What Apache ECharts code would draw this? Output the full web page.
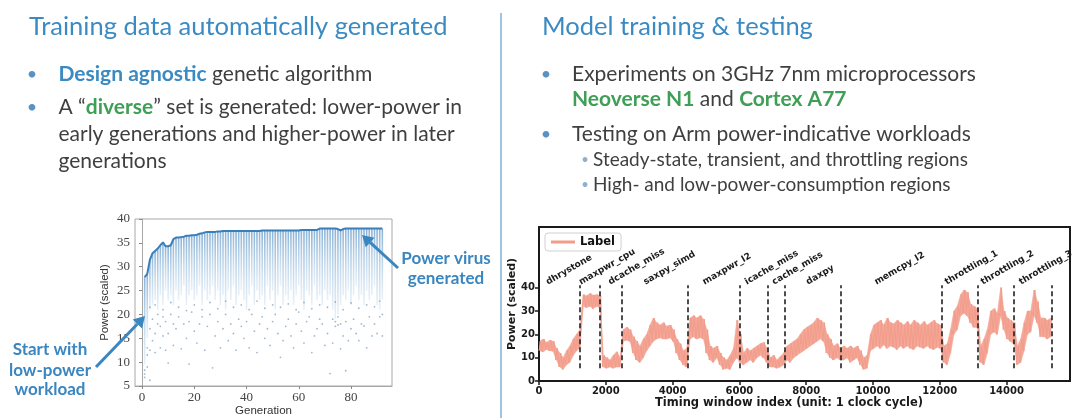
<!DOCTYPE html>
<html><head><meta charset="utf-8">
<script src="https://cdn.jsdelivr.net/npm/echarts@6/dist/echarts.min.js"></script>
<style>html,body{margin:0;padding:0;background:#fff;}#c{width:1080px;height:418px;}</style>
</head><body><div id="c"></div>
<script>
// ---------- Left chart data (genetic algorithm generations) ----------
const genMax = [
  27.8, 28.5, 31.5, 32.8, 33.3, 33.8, 34.5, 35.1, 34.3, 34.3, 34.5, 35.8,
  36.1, 36.1, 36.2, 36.3, 36.5, 36.5, 36.6, 36.6, 36.7, 36.9, 37.0, 37.2,
  37.3, 37.3, 37.3, 37.3, 37.4, 37.4, 37.5, 37.5, 37.5, 37.5, 37.5, 37.5,
  37.5, 37.5, 37.5, 37.5, 37.5, 37.5, 37.5, 37.5, 37.5, 37.6, 37.6, 37.6,
  37.6, 37.6, 37.6, 37.6, 37.6, 37.6, 37.6, 37.6, 37.6, 37.6, 37.6, 37.6,
  37.7, 37.7, 37.7, 37.7, 37.7, 37.7, 37.7, 38.0, 38.0, 38.0, 38.0, 38.0,
  38.0, 38.0, 37.9, 37.6, 37.9, 38.0, 38.0, 38.0, 38.0, 38.0, 38.0, 38.0,
  38.0, 38.0, 38.0, 38.0, 38.0, 38.0, 38.0, 38.0
];
const genLow = [
  9.5, 15, 21, 22, 23, 21, 24, 22, 25, 23, 24, 22,
  25, 23, 24, 26, 22, 24, 25, 23, 24, 26, 22, 25,
  23, 24, 26, 23, 25, 22, 24, 21, 25, 23, 26, 22,
  24, 25, 23, 21, 24, 26, 22, 25, 23, 24, 22, 26,
  23, 25, 21, 24, 26, 22, 24, 23, 25, 22, 24, 26,
  23, 21, 25, 24, 22, 26, 23, 24, 22, 25, 23, 24,
  21, 19, 20, 22, 24, 23, 25, 22, 24, 26, 23, 24,
  22, 25, 23, 24, 26, 22, 21, 23
];
const sparsePts = [
  [1,7.5],[1,8.3],[1,6.8],[2,9],[2,11.5],[2,13],[3,6.2],[3,12.5],[3,17],[4,14.5],[4,19],[5,16],[5,12],
  [6,18],[6,20],[7,13],[7,17.5],[8,15.5],[8,19.5],[9,12.5],[9,18.5],[10,9.8],[10,16],[11,20],[12,13.5],
  [12,18],[13,17],[14,19.5],[15,12.8],[16,18],[17,15],[18,9.6],[18,18.5],[19,20.5],[20,16.5],[21,14],
  [22,18],[23,19.5],[24,12.5],[25,17.5],[26,20],[27,8.8],[28,15.5],[29,18.5],[30,13],[31,17],[32,20],
  [33,14.5],[34,18],[35,16],[36,12.5],[37,19],[38,17.5],[39,15],[40,18.5],[41,13],[42,20],[43,16.5],
  [44,12],[45,18],[46,19.5],[47,15],[48,17],[49,13.5],[50,18.5],[51,20],[52,16],[53,11],[54,14.5],
  [55,17.5],[56,19],[57,15.5],[58,13],[59,18],[60,20.5],[61,16.5],[62,14],[63,18.5],[64,19.5],[65,12],
  [66,15.5],[67,17],[68,19],[69,18],[70,13.5],[71,16],[72,7.6],[73,14],[73,19],[74,17.5],[74,18.5],
  [75,19.5],[75,17.8],[76,12.8],[76,18],[77,15.5],[78,8.2],[78,18.5],[79,14.5],[80,17],[81,19],[82,16],
  [83,14.5],[84,18],[85,17.6],[86,13],[87,19.5],[88,15.5],[89,18],[90,16],[91,19.5],[92,15.5],[92,20],
  [3,21.5],[5,22],[8,21],[11,22.5],[14,21.5],[17,20.8],[20,22],[23,21],[26,22.5],[29,21.2],[32,22.8],
  [35,21.5],[38,22],[41,21],[44,22.8],[47,21.3],[50,22],[53,21.5],[56,22.2],[59,21],[62,22.5],[65,21.2],
  [68,22],[71,21.5],[74,22.6],[77,21],[80,22.4],[83,21.3],[86,22],[89,21.6],[91,22.8]
];
const genTicks = [0, 20, 40, 60, 80];

// ---------- Right chart data (power trace, per 100-window bin: low / high) ----------
const winStep = 100;
const winLo = [
  13, 12.5, 13.5, 13, 12.8, 9, 6, 5, 7, 8,
  11, 13, 14, 32, 31.5, 32, 31, 32, 31.5, 6,
  5.5, 6, 5.5, 6, 6, 17, 17.5, 17, 12, 9,
  8, 10, 13, 15, 17, 18, 18.5, 18, 18, 18.5,
  17, 12, 9, 7, 6, 18, 19, 18, 18.5, 18,
  12, 9, 8, 10, 7, 5, 5.5, 5, 8, 10,
  8, 7, 8, 9, 8, 10, 11, 10, 8, 6,
  6, 5.5, 6, 7, 9, 8, 10, 11, 12, 13,
  14, 15, 16, 17, 18, 17, 12, 10, 9, 10,
  9, 9, 10, 8, 9, 10, 7, 5, 5.5, 13,
  14, 15, 14, 15.5, 14, 15, 14.5, 13.5, 15, 14,
  15, 14, 13.5, 15, 14.5, 14, 15, 14, 13.5, 14.5,
  14, 8, 7, 12, 20, 22, 28, 29, 28, 25,
  23, 23, 8, 7, 12, 20, 21, 20, 28, 22,
  18, 17, 16, 7, 8, 13, 20, 21, 28, 25,
  19, 19, 18, 19
];
const winHi = [
  17, 18, 16.5, 17.5, 17, 14, 12, 10, 13, 15,
  18, 20, 22, 37, 36.5, 37.5, 36.8, 37, 36.5, 11,
  10, 9, 11, 12.5, 10, 22, 23, 22, 19, 17,
  15, 18, 20, 24, 27, 25, 24, 25, 23.5, 24,
  22, 18, 16, 13, 14, 27, 28, 27, 28, 26.5,
  22, 15, 14, 15, 12, 10, 9, 11, 14, 26,
  20, 12, 14, 13, 14, 15, 16, 16.5, 14, 10,
  11, 9, 10.5, 12, 15, 16, 17, 18, 20, 22,
  23, 24, 25, 27, 26, 25, 20, 18, 15, 16,
  14, 15, 14, 15, 14, 15, 13, 10, 11, 20,
  24, 25, 26, 24, 27, 25, 24.5, 26, 25, 24,
  25.5, 24, 26, 25, 24, 25.5, 24, 25, 26, 24.5,
  24, 15, 16, 22, 30, 32, 37, 39, 38, 33,
  32, 31, 15, 18, 22, 30, 31, 29, 40, 30,
  27, 26, 25, 15, 18, 25, 30, 30, 39, 34,
  27, 27, 26, 27
];
const boundaries = [1230, 1830, 2470, 4450, 6010, 6860, 7370, 9050, 12060, 13140, 14230, 15340];
const workloadNames = ['dhrystone','maxpwr_cpu','dcache_miss','saxpy_simd','maxpwr_l2','icache_miss',
  'cache_miss','daxpy','memcpy_l2','throttling_1','throttling_2','throttling_3'];
const workloadLabelX = [300, 1290, 2165, 3220, 4990, 6255, 7070, 8090, 10135, 12240, 13320, 14465];
const workloadLabelY = 40.5;
const timeTicks = [0, 2000, 4000, 6000, 8000, 10000, 12000, 14000];
const powerTicksR = [0, 10, 20, 30, 40];

// ---------- build ----------
const colData = genLow.map((lo, i) => [i + 1, lo, genMax[i]]);
const maxLine = genMax.map((v, i) => [i + 1, v]);
const trace = [];
for (let i = 0; i < winLo.length; i++) {
  trace.push([i * winStep, winLo[i]]);
  trace.push([i * winStep + winStep / 2, winHi[i]]);
}
// band segments between consecutive bins: [x, lo, hi, xNext, loNext, hiNext]
const bandSegs = [];
for (let i = 0; i < winLo.length - 1; i++) {
  bandSegs.push([i * winStep + winStep / 4, winLo[i], winHi[i], (i + 1) * winStep + winStep / 4, winLo[i + 1], winHi[i + 1]]);
}
const dashLines = boundaries.map(b => [{coord: [b, 5.5]}, {coord: [b, 41]}]);

const BLUE = '#3b8ac2', BODY = '#3f3f3f', GREEN = '#3f9f56', ANNO = '#3a86c0', SALMON = '#f29c8b';
const F = 'Lato';
function txt(x, y, text, size, color, extra) {
  return {type: 'text', x: x, y: y, z: 100, style: Object.assign({
    text: text, fontSize: size, fontFamily: F, fill: color, textAlign: 'left', textVerticalAlign: 'middle'
  }, extra || {})};
}
function arrow(x1, y1, x2, y2, color, w, hl, hw) {
  const a = Math.atan2(y2 - y1, x2 - x1);
  const bx = x2 - hl * Math.cos(a), by = y2 - hl * Math.sin(a);
  const nx = -Math.sin(a), ny = Math.cos(a);
  return [
    {type: 'line', z: 100, shape: {x1: x1, y1: y1, x2: bx, y2: by}, style: {stroke: color, lineWidth: w}},
    {type: 'polygon', z: 100, shape: {points: [[x2, y2], [bx + nx * hw, by + ny * hw], [bx - nx * hw, by - ny * hw]]}, style: {fill: color}}
  ];
}
const BS = 21;
const richB = {b: {fontWeight: 'bold', fill: BLUE, fontSize: BS, fontFamily: F},
               g: {fontWeight: 'bold', fill: GREEN, fontSize: BS, fontFamily: F}};

const staticGraphics = [
  {type: 'line', z: 1, shape: {x1: 501, y1: 13, x2: 501, y2: 418}, style: {stroke: '#7fb0da', lineWidth: 1.5}},
  txt(29, 27, 'Training data automatically generated', 25.5, BLUE),
  txt(542, 27, 'Model training & testing', 25.5, BLUE),
  txt(32, 74, '•', 18, '#5a92c4', {textAlign: 'center'}),
  txt(58.5, 74, '{b|Design agnostic} genetic algorithm', BS, BODY, {rich: richB}),
  txt(32, 107, '•', 18, '#5a92c4', {textAlign: 'center'}),
  txt(58.5, 107, 'A “{g|diverse}” set is generated: lower-power in', BS, BODY, {rich: richB}),
  txt(58.5, 134, 'early generations and higher-power in later', BS, BODY),
  txt(58.5, 161, 'generations', BS, BODY),
  txt(546, 74, '•', 18, '#5a92c4', {textAlign: 'center'}),
  txt(572, 74, 'Experiments on 3GHz 7nm microprocessors', BS, BODY),
  txt(572, 99, '{g|Neoverse N1} and {g|Cortex A77}', BS, BODY, {rich: richB}),
  txt(546, 134, '•', 18, '#5a92c4', {textAlign: 'center'}),
  txt(572, 134, 'Testing on Arm power-indicative workloads', BS, BODY),
  txt(585, 160, '•', 13, '#8fb0cf', {textAlign: 'center'}),
  txt(593, 160, 'Steady-state, transient, and throttling regions', 19, BODY),
  txt(585, 185, '•', 13, '#8fb0cf', {textAlign: 'center'}),
  txt(593, 185, 'High- and low-power-consumption regions', 19, BODY),
  txt(50, 350, 'Start with', 17, ANNO, {fontWeight: 'bold', textAlign: 'center'}),
  txt(50, 371, 'low-power', 17, ANNO, {fontWeight: 'bold', textAlign: 'center'}),
  txt(50, 390, 'workload', 17, ANNO, {fontWeight: 'bold', textAlign: 'center'}),
  txt(446, 259, 'Power virus', 17, ANNO, {fontWeight: 'bold', textAlign: 'center'}),
  txt(446, 279, 'generated', 17, ANNO, {fontWeight: 'bold', textAlign: 'center'})
].concat(arrow(96, 367, 145, 316, ANNO, 3, 11, 6.5))
 .concat(arrow(398, 268, 362, 235, ANNO, 3, 11, 6.5));

const plainNum = v => String(v);
const chart = echarts.init(document.getElementById('c'), null, {renderer: 'canvas', width: 1080, height: 418});
const option = {
  animation: false,
  backgroundColor: '#ffffff',
  legend: {
    data: ['Label'], left: 545, top: 233, icon: 'rect', itemWidth: 24, itemHeight: 3,
    padding: [3, 6, 3, 6], borderColor: '#d0d0d0', borderWidth: 1, borderRadius: 3, backgroundColor: '#fff',
    textStyle: {fontFamily: 'DejaVu Sans', fontWeight: 'bold', fontSize: 11.5, color: '#111'}
  },
  grid: [
    {left: 135, top: 219, width: 257, height: 167, show: true, borderColor: '#a8a8a8', borderWidth: 1},
    {left: 539, top: 227, width: 531, height: 154, show: true, borderColor: '#1a1a1a', borderWidth: 2}
  ],
  xAxis: [
    {gridIndex: 0, type: 'value', min: -2.7, max: 95.7, splitLine: {show: false},
     axisLine: {show: true, lineStyle: {color: '#a8a8a8', width: 1}},
     axisTick: {show: true, customValues: genTicks, length: 3, lineStyle: {color: '#888'}},
     axisLabel: {customValues: genTicks, formatter: plainNum, fontFamily: 'Liberation Serif', fontSize: 13, color: '#444', margin: 5},
     name: 'Generation', nameLocation: 'middle', nameGap: 17,
     nameTextStyle: {fontFamily: 'Liberation Sans', fontSize: 11.5, color: '#333', verticalAlign: 'top'}},
    {gridIndex: 1, type: 'value', min: 0, max: 15900, splitLine: {show: false},
     axisLine: {show: true, lineStyle: {color: '#1a1a1a', width: 2}},
     axisTick: {show: true, customValues: timeTicks, length: 4, lineStyle: {color: '#1a1a1a', width: 1.5}},
     axisLabel: {customValues: timeTicks, formatter: plainNum, fontFamily: 'DejaVu Sans', fontWeight: 'bold', fontSize: 10, color: '#1a1a1a', margin: 5},
     name: 'Timing window index (unit: 1 clock cycle)', nameLocation: 'middle', nameGap: 14,
     nameTextStyle: {fontFamily: 'DejaVu Sans', fontWeight: 'bold', fontSize: 11.5, color: '#1a1a1a', verticalAlign: 'top', padding: [0, 31, 0, 0]}}
  ],
  yAxis: [
    {gridIndex: 0, type: 'value', min: 5, max: 40, interval: 5, splitLine: {show: false},
     axisLine: {show: true, lineStyle: {color: '#a8a8a8', width: 1}},
     axisTick: {show: true, length: 3, lineStyle: {color: '#888'}},
     axisLabel: {fontFamily: 'Liberation Serif', fontSize: 13, color: '#444', margin: 5},
     name: 'Power (scaled)', nameLocation: 'middle', nameGap: 24,
     nameTextStyle: {fontFamily: 'Liberation Sans', fontSize: 11.5, color: '#333'}},
    {gridIndex: 1, type: 'value', min: 0, max: 66, splitLine: {show: false},
     axisLine: {show: true, lineStyle: {color: '#1a1a1a', width: 2}},
     axisTick: {show: true, customValues: powerTicksR, length: 4, lineStyle: {color: '#1a1a1a', width: 1.5}},
     axisLabel: {customValues: powerTicksR, formatter: plainNum, fontFamily: 'DejaVu Sans', fontWeight: 'bold', fontSize: 10, color: '#1a1a1a', margin: 4},
     name: 'Power (scaled)', nameLocation: 'middle', nameGap: 17,
     nameTextStyle: {fontFamily: 'DejaVu Sans', fontWeight: 'bold', fontSize: 11, color: '#1a1a1a'}}
  ],
  series: [
    {type: 'custom', name: 'columns', xAxisIndex: 0, yAxisIndex: 0, data: colData, encode: {x: 0, y: [1, 2]},
     silent: true,
     renderItem: function (params, api) {
       const g = api.value(0), lo = api.value(1), hi = api.value(2);
       const p1 = api.coord([g, hi]), p2 = api.coord([g, lo]);
       return {type: 'rect', shape: {x: p1[0] - 0.8, y: p1[1], width: 1.6, height: p2[1] - p1[1]},
         style: {fill: {type: 'linear', x: 0, y: 0, x2: 0, y2: 1, colorStops: [
           {offset: 0, color: 'rgba(65,130,188,0.62)'}, {offset: 0.45, color: 'rgba(95,152,202,0.42)'},
           {offset: 1, color: 'rgba(130,175,215,0.18)'}]}}};
     }},
    {type: 'scatter', name: 'points', xAxisIndex: 0, yAxisIndex: 0, data: sparsePts, symbolSize: 1.8,
     itemStyle: {color: 'rgba(85,130,175,0.7)'}, silent: true},
    {type: 'line', name: 'max', xAxisIndex: 0, yAxisIndex: 0, data: maxLine, showSymbol: false, symbol: 'none',
     lineStyle: {color: '#3a7fb8', width: 2}, silent: true},
    {type: 'custom', name: 'band', xAxisIndex: 1, yAxisIndex: 1, data: bandSegs, encode: {x: [0, 3], y: [1, 2]},
     silent: true,
     renderItem: function (params, api) {
       const a = api.coord([api.value(0), api.value(2)]);
       const b = api.coord([api.value(3), api.value(5)]);
       const c = api.coord([api.value(3), api.value(4)]);
       const d = api.coord([api.value(0), api.value(1)]);
       return {type: 'polygon', shape: {points: [a, b, c, d]},
         style: {fill: '#f5a898', stroke: '#f5a898', lineWidth: 0.6}};
     }},
    {type: 'line', name: 'Label', xAxisIndex: 1, yAxisIndex: 1, data: trace, showSymbol: false, symbol: 'none',
     color: SALMON, lineStyle: {color: SALMON, width: 1}, silent: true, z: 3,
     markLine: {silent: true, symbol: ['none', 'none'], label: {show: false},
       lineStyle: {type: [5, 3], color: '#222', width: 1.6}, data: dashLines}}
  ],
  graphic: staticGraphics
};
chart.setOption(option);

const labelGraphics = workloadNames.map((n, i) => {
  const p = chart.convertToPixel({xAxisIndex: 1, yAxisIndex: 1}, [workloadLabelX[i], workloadLabelY]);
  return {type: 'text', x: p[0], y: p[1], rotation: Math.PI / 6, z: 100,
    style: {text: n, fontSize: 9, fontWeight: 'bold', fontFamily: 'DejaVu Sans', fill: '#1a1a1a',
      textAlign: 'left', textVerticalAlign: 'bottom'}};
});
chart.setOption({graphic: staticGraphics.concat(labelGraphics)});
</script>
</body></html>
